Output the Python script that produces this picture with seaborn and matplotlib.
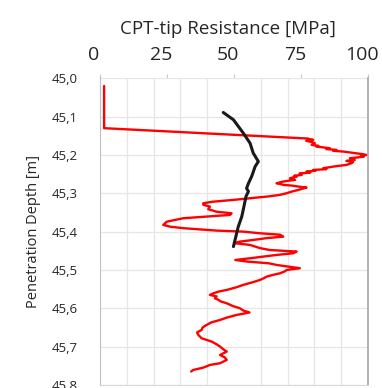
import seaborn as sns
import matplotlib.pyplot as plt
import matplotlib.ticker as mticker
import matplotlib.transforms as mtransforms
import pandas as pd

# CPT tip resistance profile (red) and comparison curve (black)
cpt_depth = [45.020, 45.130, 45.157, 45.1606, 45.163, 45.165, 45.169, 45.1736, 45.176, 45.178,
             45.1823, 45.1845, 45.1867, 45.189, 45.191, 45.1945, 45.198, 45.200, 45.202, 45.204,
             45.2067, 45.2084, 45.2128, 45.2154, 45.218, 45.2214, 45.2258, 45.228, 45.2302, 45.2325,
             45.2345, 45.237, 45.239, 45.241, 45.2432, 45.246, 45.248, 45.252, 45.254, 45.2563,
             45.2585, 45.2606, 45.265, 45.267, 45.2693, 45.2737, 45.276, 45.278, 45.2798, 45.2824,
             45.285, 45.288, 45.291, 45.2954, 45.2997, 45.304, 45.308, 45.317, 45.322, 45.326,
             45.330, 45.3346, 45.3416, 45.348, 45.352, 45.3564, 45.3607, 45.365, 45.374, 45.3825,
             45.387, 45.391, 45.3973, 45.400, 45.4043, 45.408, 45.413, 45.417, 45.4217, 45.426,
             45.430, 45.4347, 45.443, 45.448, 45.452, 45.4565, 45.4608, 45.4695, 45.474, 45.4782,
             45.4826, 45.487, 45.4956, 45.500, 45.504, 45.5087, 45.513, 45.5174, 45.522, 45.5261,
             45.531, 45.539, 45.545, 45.5522, 45.556, 45.5609, 45.5652, 45.569, 45.574, 45.578,
             45.582, 45.587, 45.594, 45.600, 45.606, 45.611, 45.6174, 45.624, 45.6305, 45.637,
             45.6435, 45.650, 45.6566, 45.663, 45.6696, 45.6783, 45.683, 45.687, 45.694, 45.700,
             45.707, 45.713, 45.722, 45.728, 45.7348, 45.7435, 45.7479, 45.755, 45.761, 45.765]
cpt_value = [1.5, 1.5, 77.5, 79.6, 77.0, 78.4, 80.2, 79.0, 81.5, 80.8,
             85.8, 84.5, 88.3, 87.0, 90.8, 94.5, 98.3, 99.5, 97.5, 98.5,
             95.8, 93.3, 95.1, 92.0, 94.5, 93.9, 92.0, 89.5, 87.1, 85.0,
             83.3, 84.5, 79.6, 80.5, 77.1, 78.5, 74.5, 75.3, 72.5, 73.4,
             72.0, 70.9, 72.8, 70.5, 68.4, 65.9, 67.5, 68.4, 71.6, 74.1,
             77.1, 75.5, 74.1, 71.6, 69.7, 67.2, 63.0, 50.0, 42.0, 38.5,
             38.6, 41.0, 40.4, 43.5, 49.1, 48.5, 39.8, 31.1, 24.9, 23.6,
             26.1, 31.1, 43.5, 53.5, 59.7, 67.2, 68.4, 62.2, 57.2, 52.2,
             50.0, 56.0, 59.7, 63.4, 73.4, 72.1, 65.9, 56.0, 50.5, 55.0,
             63.0, 66.0, 74.6, 69.7, 68.9, 67.2, 64.5, 62.2, 61.0, 59.7,
             57.5, 53.5, 51.0, 47.3, 44.5, 42.3, 41.0, 43.5, 42.9, 44.2,
             45.0, 47.3, 49.5, 52.2, 53.5, 55.8, 51.0, 47.5, 44.8, 41.5,
             39.8, 38.3, 37.9, 36.2, 36.7, 37.9, 40.0, 41.7, 43.5, 44.8,
             46.0, 47.3, 44.8, 46.5, 47.3, 44.8, 41.0, 38.5, 34.8, 34.0]

ref_depth = [45.089, 45.108, 45.143, 45.169, 45.195, 45.217, 45.230, 45.256, 45.274, 45.287,
             45.295, 45.308, 45.335, 45.361, 45.387, 45.413, 45.439]
ref_value = [46.0, 49.8, 53.5, 56.0, 57.2, 59.1, 57.9, 56.6, 55.4, 54.7,
             55.4, 54.5, 53.7, 52.9, 51.6, 50.7, 49.8]

x_ticks = [0, 25, 50, 75, 100]
y_ticks = [45.0, 45.1, 45.2, 45.3, 45.4, 45.5, 45.6, 45.7, 45.8]
y_tick_labels = [f"{v:.1f}".replace(".", ",") for v in y_ticks]

sns.set_style("white")
plt.rcParams['font.family'] = ['Open Sans', 'DejaVu Sans']

cpt = pd.DataFrame({'depth': cpt_depth, 'qc': cpt_value})
ref = pd.DataFrame({'depth': ref_depth, 'qc': ref_value})

fig = plt.figure(figsize=(3.82, 3.88), dpi=100)
ax = fig.add_axes([0.262, 0.008, 0.701, 0.790])

sns.lineplot(data=cpt, x='qc', y='depth', sort=False, estimator=None, color='#ff0000', linewidth=1.7, ax=ax)
sns.lineplot(data=ref, x='qc', y='depth', sort=False, estimator=None, color='#1a1a1a', linewidth=2.2, ax=ax)

ax.set_xlim(0, 100)
ax.set_ylim(45.8, 45.0)
ax.xaxis.tick_top()
ax.xaxis.set_label_position('top')
ax.set_xticks(x_ticks)
ax.xaxis.set_minor_locator(mticker.MultipleLocator(10))
ax.set_yticks(y_ticks)
ax.set_yticklabels(y_tick_labels)
ax.grid(which='minor', axis='x', color='#e6e6e6', linewidth=0.9)
ax.grid(which='major', axis='y', color='#e6e6e6', linewidth=0.9)
ax.tick_params(axis='x', which='major', length=3, color='#c8c8c8', labelsize=14, pad=7)
ax.tick_params(axis='x', which='minor', length=0)
ax.tick_params(axis='y', length=4, color='#c8c8c8', labelsize=9.5, pad=12)

# Excel-style: top labels sit a little left of their ticks
shift = mtransforms.ScaledTranslation(-6 / 100, 0, fig.dpi_scale_trans)
for lab in ax.get_xticklabels():
    lab.set_transform(lab.get_transform() + shift)

ax.set_xlabel('CPT-tip Resistance [MPa]', fontsize=13.5, labelpad=9)
ax.set_ylabel('Penetration Depth [m]', fontsize=10.5, labelpad=8)
ax.xaxis.label.set_transform(ax.xaxis.label.get_transform() + shift)

ax.spines['top'].set_visible(False)
ax.spines['left'].set_color('#bfbfbf')
ax.spines['bottom'].set_color('#d9d9d9')
ax.spines['right'].set_color('#a6a6a6')
ax.spines['right'].set_linewidth(1.2)

fig.savefig('out.png', dpi=100)
